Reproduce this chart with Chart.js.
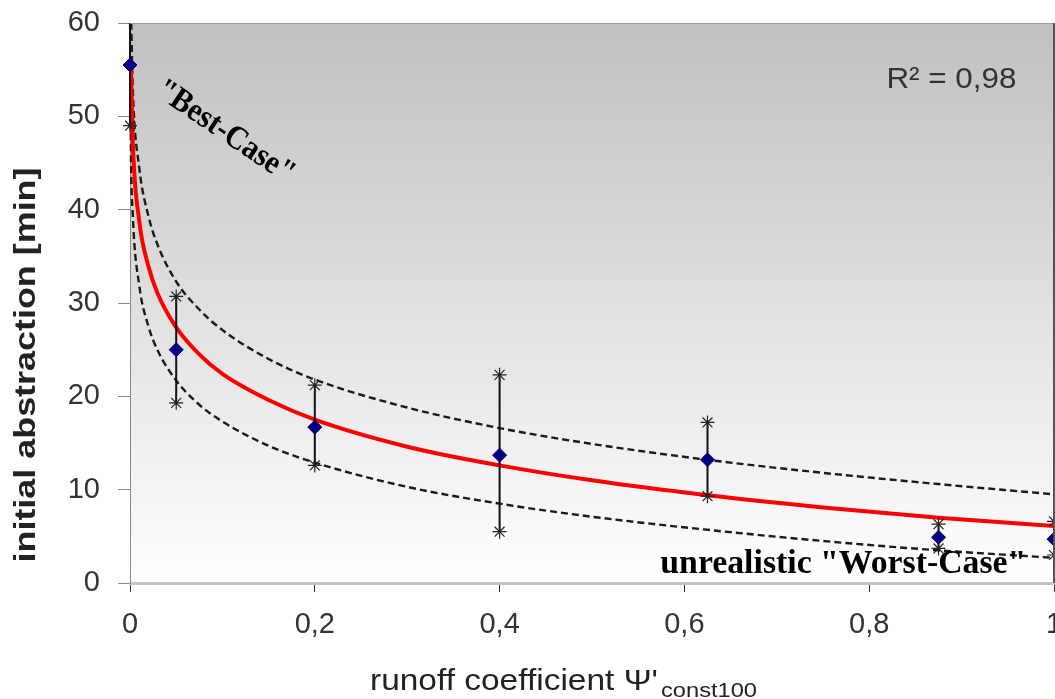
<!DOCTYPE html>
<html>
<head>
<meta charset="utf-8">
<script src="https://cdn.jsdelivr.net/npm/chart.js@4.4.1/dist/chart.umd.min.js"></script>
<style>
  html, body { margin: 0; padding: 0; background: #fff; }
  canvas { display: block; }
</style>
</head>
<body>
<canvas id="chart" width="1055" height="699"></canvas>
<script>
// measured points (runoff coefficient vs initial abstraction)
const pointX = [0, 0.05, 0.2, 0.4, 0.625, 0.875, 1];
const pointY = [55.5, 25.0, 16.7, 13.7, 13.2, 4.9, 4.7];
const errLow = [49.0, 19.3, 12.6, 5.5, 9.3, 3.7, 3.0];
const errHigh = [62, 30.7, 21.2, 22.3, 17.2, 6.3, 6.6];

// red trend line
const fitX = [0.0009, 0.003, 0.01, 0.02, 0.03, 0.05, 0.075, 0.1, 0.15, 0.2, 0.3, 0.4, 0.5, 0.625, 0.75, 0.875, 1];
const fitY = [56, 47.3, 38.8, 33.9, 31, 27.4, 24.5, 22.4, 19.6, 17.5, 14.6, 12.6, 11.0, 9.4, 8.1, 7.0, 6.1];

// dashed envelope curves
const upperX = [0.0013, 0.003, 0.01, 0.02, 0.03, 0.05, 0.075, 0.1, 0.15, 0.2, 0.3, 0.4, 0.5, 0.625, 0.75, 0.875, 1];
const upperY = [60, 53, 44.5, 39.3, 36.2, 32.3, 29.3, 27.1, 24.0, 21.8, 18.8, 16.6, 14.9, 13.2, 11.8, 10.6, 9.5];
const lowerX = [0.00012, 0.001, 0.003, 0.01, 0.02, 0.03, 0.05, 0.075, 0.1, 0.15, 0.2, 0.3, 0.4, 0.5, 0.625, 0.75, 0.875, 1];
const lowerY = [60, 46.5, 39.5, 31.9, 27.5, 24.9, 21.7, 19.1, 17.3, 14.7, 12.9, 10.3, 8.5, 7.1, 5.7, 4.5, 3.5, 2.7];

// ticks
const xTickValues = [0, 0.2, 0.4, 0.6, 0.8, 1];
const xTickLabels = ['0', '0,2', '0,4', '0,6', '0,8', '1'];
const yTickValues = [0, 10, 20, 30, 40, 50, 60];

const zip = (xs, ys) => xs.map((x, i) => ({ x: x, y: ys[i] }));

// error bars as one broken line
const errData = [];
pointX.forEach((x, i) => {
    errData.push({ x: x, y: errLow[i] }, { x: x, y: errHigh[i] }, { x: x, y: null });
});

const areaClip = { left: 10, top: 0, right: 10, bottom: 10 };

// draw text squeezed/stretched to a given width
function fitText(ctx, text, x, y, width, angle) {
    const w = ctx.measureText(text).width;
    ctx.save();
    ctx.translate(x, y);
    ctx.rotate(angle || 0);
    ctx.scale(width / w, 1);
    ctx.fillText(text, 0, 0);
    ctx.restore();
}

const backgroundPlugin = {
    id: 'bg',
    beforeDraw(chart) {
        const { ctx, chartArea: a } = chart;
        const g = ctx.createLinearGradient(0, a.top, 0, a.bottom);
        g.addColorStop(0, '#c0c0c0');
        g.addColorStop(1, '#ffffff');
        ctx.save();
        ctx.fillStyle = g;
        ctx.fillRect(a.left, a.top, a.right - a.left, a.bottom - a.top);
        ctx.restore();
    },
    afterDraw(chart) {
        const { ctx, chartArea: a, scales } = chart;
        const px = v => scales.x.getPixelForValue(v);
        const py = v => scales.y.getPixelForValue(v);
        ctx.save();
        // frame top / right
        ctx.strokeStyle = '#9a9a9a';
        ctx.lineWidth = 1;
        ctx.beginPath();
        ctx.moveTo(a.left, a.top + 0.5);
        ctx.lineTo(a.right, a.top + 0.5);
        ctx.stroke();
        ctx.strokeStyle = '#555';
        ctx.lineWidth = 2;
        ctx.beginPath();
        ctx.moveTo(a.right, a.top);
        ctx.lineTo(a.right, a.bottom);
        ctx.stroke();

        // R²
        ctx.fillStyle = '#333';
        ctx.font = '30px "Liberation Sans", Arial, sans-serif';
        ctx.textAlign = 'center';
        ctx.textBaseline = 'middle';
        fitText(ctx, 'R² = 0,98', px(0.889), py(53.9), 130);

        // annotations
        ctx.fillStyle = '#000';
        ctx.font = 'bold 33px "Liberation Serif", "Times New Roman", serif';
        fitText(ctx, '"Best-Case"', px(0.103), py(48.3), 160, 34 * Math.PI / 180);
        ctx.font = 'bold 33px "Liberation Serif", "Times New Roman", serif';
        ctx.textBaseline = 'alphabetic';
        fitText(ctx, 'unrealistic "Worst-Case"', px(0.772), py(1.1), 366);

        // axis titles
        ctx.fillStyle = '#222';
        ctx.font = 'bold 29px "Liberation Sans", Arial, sans-serif';
        ctx.textBaseline = 'middle';
        fitText(ctx, 'initial abstraction [min]', 27, 365, 395, -Math.PI / 2);

        ctx.textAlign = 'left';
        ctx.textBaseline = 'alphabetic';
        ctx.font = '30px "Liberation Sans", Arial, sans-serif';
        fitText(ctx, "runoff coefficient Ψ'", 370, 690, 288);
        ctx.font = '20px "Liberation Sans", Arial, sans-serif';
        fitText(ctx, 'const100', 661, 697, 96);
        ctx.restore();
    }
};

new Chart(document.getElementById('chart'), {
    type: 'scatter',
    data: {
        datasets: [
            {
                label: 'measured',
                data: zip(pointX, pointY),
                pointStyle: 'rectRot',
                pointRadius: 7,
                pointBackgroundColor: '#000080',
                pointBorderColor: '#000080',
                showLine: false,
                clip: areaClip
            },
            {
                label: 'range',
                data: errData,
                showLine: true,
                borderColor: '#111',
                borderWidth: 2,
                pointStyle: 'star',
                pointRadius: c => (c.raw && c.raw.y !== null ? 7 : 0),
                pointBorderColor: '#222',
                pointBorderWidth: 1.2,
                spanGaps: false,
                clip: areaClip
            },
            {
                label: 'fit',
                data: zip(fitX, fitY),
                showLine: true,
                borderColor: '#ff0000',
                borderWidth: 4,
                pointRadius: 0,
                cubicInterpolationMode: 'monotone',
                clip: areaClip
            },
            {
                label: 'upper',
                data: zip(upperX, upperY),
                showLine: true,
                borderColor: '#1a1a1a',
                borderWidth: 2.4,
                borderDash: [7, 4],
                pointRadius: 0,
                cubicInterpolationMode: 'monotone',
                clip: areaClip
            },
            {
                label: 'lower',
                data: zip(lowerX, lowerY),
                showLine: true,
                borderColor: '#1a1a1a',
                borderWidth: 2.4,
                borderDash: [7, 4],
                pointRadius: 0,
                cubicInterpolationMode: 'monotone',
                clip: areaClip
            }
        ]
    },
    options: {
        responsive: false,
        animation: false,
        devicePixelRatio: 1,
        layout: { autoPadding: false, padding: { top: 23, right: 1, left: 0, bottom: 0 } },
        plugins: {
            legend: { display: false },
            tooltip: { enabled: false }
        },
        scales: {
            x: {
                type: 'linear',
                min: 0,
                max: 1,
                afterBuildTicks: s => { s.ticks = xTickValues.map(v => ({ value: v })); },
                afterFit: s => { s.height = 116; s.paddingLeft = 0; s.paddingRight = 0; },
                ticks: {
                    autoSkip: false,
                    maxRotation: 0,
                    padding: 16,
                    color: '#333',
                    font: { family: '"Liberation Sans", Arial, sans-serif', size: 29 },
                    callback: (v, i) => xTickLabels[i]
                },
                grid: { drawOnChartArea: false, drawTicks: true, tickLength: 9, color: '#333' },
                border: { color: '#c4c4c4', width: 3 }
            },
            y: {
                min: 0,
                max: 60,
                afterBuildTicks: s => { s.ticks = yTickValues.map(v => ({ value: v })); },
                afterFit: s => { s.width = 130; s.paddingTop = 0; s.paddingBottom = 0; },
                ticks: {
                    padding: 18,
                    color: '#333',
                    font: { family: '"Liberation Sans", Arial, sans-serif', size: 29 }
                },
                grid: { drawOnChartArea: false, drawTicks: true, tickLength: 12, color: '#888' },
                border: { color: '#888', width: 1 }
            }
        }
    },
    plugins: [backgroundPlugin]
});
</script>
</body>
</html>
